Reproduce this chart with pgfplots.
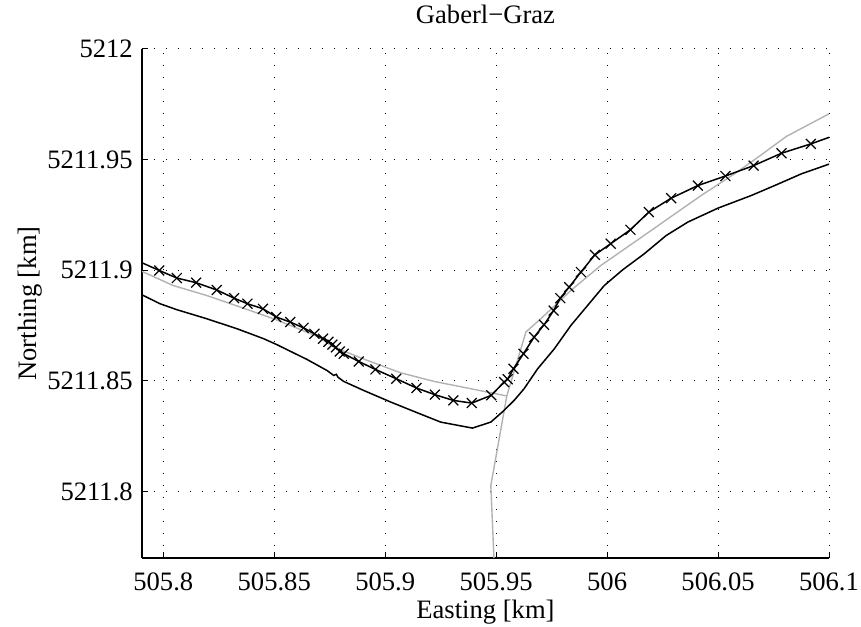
\documentclass[border=0pt]{standalone}
\usepackage{fontspec}
\setmainfont{Liberation Serif}
\usepackage{pgfplots}
\usepackage{pgfplotstable}
\pgfplotsset{compat=1.18}

% black trajectory with x markers (first and last rows: line only)
\pgfplotstableread{
x y
505.7904 5211.9034
505.7982 5211.8999
505.8061 5211.8965
505.8148 5211.8944
505.8241 5211.8911
505.8319 5211.8874
505.8379 5211.8849
505.8449 5211.8826
505.8509 5211.8789
505.8572 5211.8766
505.8632 5211.8740
505.8681 5211.8713
505.8720 5211.8691
505.8744 5211.8677
505.8762 5211.8664
505.8778 5211.8652
505.8795 5211.8633
505.8813 5211.8623
505.8881 5211.8588
505.8956 5211.8552
505.9050 5211.8510
505.9141 5211.8468
505.9224 5211.8438
505.9307 5211.8412
505.9390 5211.8400
505.9478 5211.8435
505.9536 5211.8495
505.9552 5211.8508
505.9578 5211.8555
505.9623 5211.8623
505.9671 5211.8698
505.9716 5211.8754
505.9759 5211.8818
505.9789 5211.8874
505.9829 5211.8924
505.9882 5211.8992
505.9945 5211.9070
506.0016 5211.9120
506.0105 5211.9183
506.0188 5211.9263
506.0289 5211.9326
506.0409 5211.9383
506.0533 5211.9426
506.0660 5211.9473
506.0786 5211.9529
506.0918 5211.9571
506.1004 5211.9602
}\trackdata

% lower black line
\pgfplotstableread{
x y
505.7904 5211.8889
505.7985 5211.8849
505.8061 5211.8822
505.8196 5211.8781
505.8332 5211.8736
505.8452 5211.8691
505.8512 5211.8664
505.8648 5211.8597
505.8738 5211.8547
505.8768 5211.8525
505.8780 5211.8530
505.8787 5211.8517
505.8813 5211.8498
505.8903 5211.8457
505.9024 5211.8405
505.9145 5211.8356
505.9250 5211.8314
505.9393 5211.8287
505.9476 5211.8314
505.9528 5211.8360
505.9581 5211.8412
505.9626 5211.8465
505.9687 5211.8555
505.9762 5211.8645
505.9837 5211.8751
505.9912 5211.8841
505.9987 5211.8931
506.0070 5211.9002
506.0168 5211.9075
506.0266 5211.9157
506.0364 5211.9218
506.0500 5211.9281
506.0650 5211.9338
506.0755 5211.9383
506.0876 5211.9436
506.1004 5211.9481
}\lowerdata

% gray road, western branch
\pgfplotstableread{
x y
505.7904 5211.8995
505.8045 5211.8931
505.8196 5211.8886
505.8346 5211.8834
505.8497 5211.8781
505.8693 5211.8702
505.8768 5211.8653
505.8919 5211.8593
505.9069 5211.8537
505.9220 5211.8498
505.9370 5211.8468
505.9548 5211.8432
}\roadwest

% gray road, southern branch continuing north-east
\pgfplotstableread{
x y
505.9490 5211.7700
505.9476 5211.8027
505.9548 5211.8432
505.9634 5211.8721
505.9701 5211.8781
505.9837 5211.8909
505.9972 5211.9022
506.0123 5211.9127
506.0274 5211.9233
506.0424 5211.9338
506.0574 5211.9436
506.0680 5211.9511
506.0808 5211.9605
506.1000 5211.9707
}\roadeast

\begin{document}
\fontsize{13.3}{16}\selectfont
\begin{tikzpicture}
\begin{axis}[
  scale only axis,
  width=343.5pt, height=254.5pt,
  xmin=505.7904, xmax=506.1,
  ymin=5211.77, ymax=5212,
  axis x line*=bottom, axis y line*=left,
  axis line style={-, line width=0.6pt},
  xtick={505.8,505.85,505.9,505.95,506,506.05,506.1},
  xticklabels={505.8,505.85,505.9,505.95,506,506.05,506.1},
  ytick={5211.8,5211.85,5211.9,5211.95,5212},
  yticklabels={5211.8,5211.85,5211.9,5211.95,5212},
  scaled ticks=false,
  tick align=inside,
  major tick length=3pt,
  tick style={black, line width=0.5pt},
  grid=major,
  major grid style={black, line width=0.5pt, dash pattern=on 0.6pt off 5.4pt},
  tick label style={font=\fontsize{13.3}{16}\selectfont},
  label style={font=\fontsize{13.3}{16}\selectfont},
  title style={font=\fontsize{13.3}{16}\selectfont},
  xticklabel style={yshift=-3pt},
  xlabel style={yshift=4.5pt},
  ylabel style={yshift=-6.5pt},
  title style={yshift=2pt},
  title={Gaberl−Graz},
  xlabel={Easting [km]},
  ylabel={Northing [km]},
  clip=true,
]
\addplot[black!30, line width=0.7pt] table {\roadwest};
\addplot[black!30, line width=0.7pt] table {\roadeast};
\addplot[black, line width=0.75pt] table {\lowerdata};
\addplot[black, line width=0.75pt] table {\trackdata};
\addplot[black, only marks, mark=x, mark size=3.5pt, mark options={line width=0.6pt},
  skip coords between index={0}{1}, skip coords between index={46}{47}] table {\trackdata};
\end{axis}
\pgfresetboundingbox
\path[use as bounding box] ([xshift=-71pt,yshift=-34.5pt]current axis.south west) rectangle ([xshift=16pt,yshift=24.5pt]current axis.north east);
\end{tikzpicture}
\end{document}
